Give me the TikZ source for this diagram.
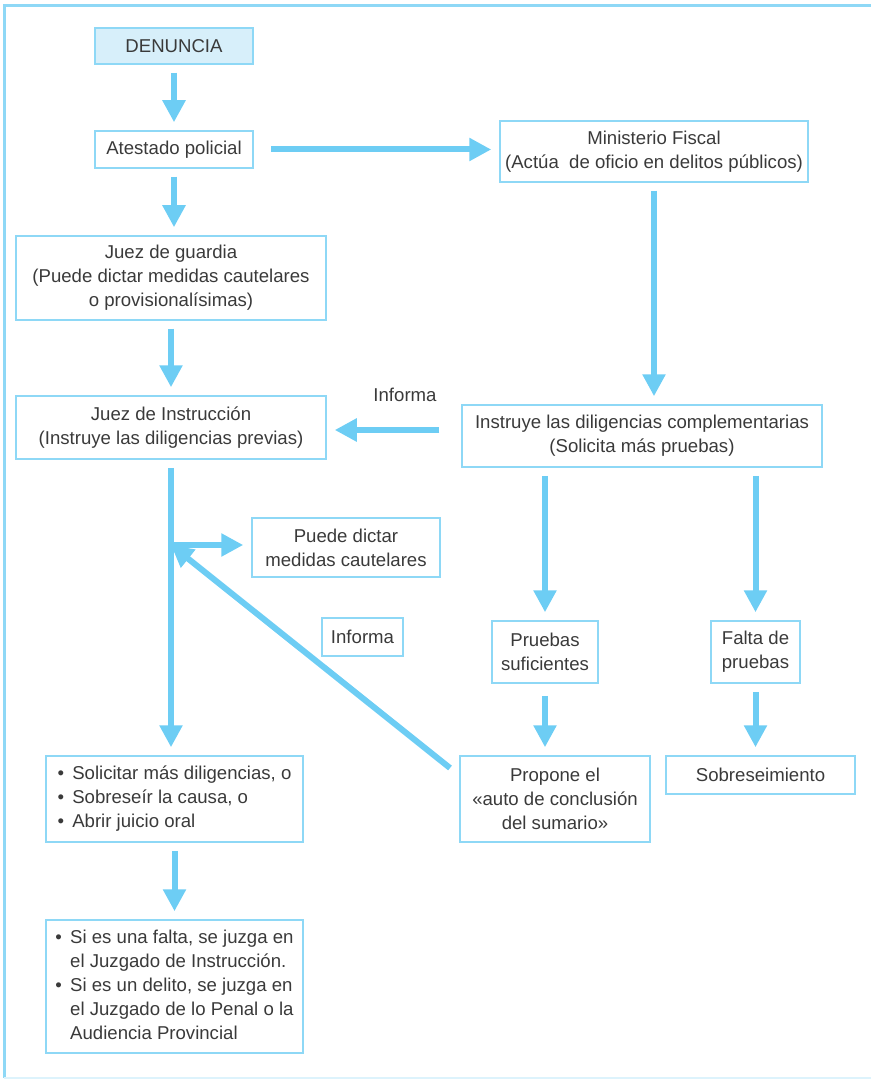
\documentclass[tikz,border=0pt]{standalone}
\usepackage{fontspec}
\setmainfont{Liberation Sans}
\usepackage{tikz}
\usetikzlibrary{arrows.meta}

\definecolor{celeste}{HTML}{6DCDF4}
\definecolor{borde}{HTML}{8ED8F6}
\definecolor{fondo}{HTML}{D7EFFA}
\definecolor{texto}{HTML}{3A3A3A}

\tikzset{
    caja/.style={shape=rectangle,draw=borde,line width=0.75pt,align=center,text=texto,inner sep=2pt},
    flecha/.style={draw=celeste,line width=3pt,-{Triangle[length=11pt,width=11pt]},shorten <=4pt,shorten >=4pt}
}

\begin{document}
\begin{tikzpicture}[x=0.5pt,y=-0.5pt,font=\fontsize{9.3}{12}\selectfont]
    \useasboundingbox (0,0) rectangle (871,1080);
    \draw[borde,line width=1.5pt] (871,6) -- (4,6) -- (4,1078);
    \draw[borde!30,line width=0.75pt] (4,1078) -- (871,1078);
	\node (denuncia) at (174,46) [caja,fill=fondo,minimum width=79pt,minimum height=18pt] {DENUNCIA};
	\node (atestado) at (174,149.5) [caja,minimum width=79pt,minimum height=18.5pt] {Atestado policial};
	\node (ministerio) at (654,151.5) [caja,minimum width=154pt,minimum height=30.5pt] {Ministerio Fiscal\\(Actúa\ \ de oficio en delitos públicos)};
	\node (guardia) at (171,278) [caja,minimum width=155pt,minimum height=42pt] {Juez de guardia\\(Puede dictar medidas cautelares\\o provisionalísimas)};
	\node (instruccion) at (171,427.5) [caja,minimum width=155pt,minimum height=31.5pt] {Juez de Instrucción\\(Instruye las diligencias previas)};
	\node (instruye) at (642,436) [caja,minimum width=180pt,minimum height=31pt] {Instruye las diligencias complementarias\\(Solicita más pruebas)};
	\node (puede) at (346,547.5) [caja,minimum width=94pt,minimum height=29.5pt] {Puede dictar\\medidas cautelares};
	\node (informa) at (362.5,637) [caja,minimum width=40.5pt,minimum height=19pt] {Informa};
	\node (pruebas) at (545,652) [caja,minimum width=53pt,minimum height=31pt] {Pruebas\\suficientes};
	\node (falta) at (755.5,652) [caja,minimum width=44.5pt,minimum height=31pt] {Falta de\\pruebas};
	\node (solicitar) at (174.5,799) [caja,minimum width=128.5pt,minimum height=43pt] {%
	  \begin{tabular}{@{}l@{\ \,}l@{}}
	  \textbullet & Solicitar más diligencias, o\\
	  \textbullet & Sobreseír la causa, o\\
	  \textbullet & Abrir juicio oral
	  \end{tabular}};
	\node (propone) at (555,799) [caja,minimum width=95pt,minimum height=43pt] {Propone el\\«auto de conclusión\\del sumario»};
	\node (sobre) at (760.5,775) [caja,minimum width=94.5pt,minimum height=19pt] {Sobreseimiento};
	\node (sies) at (174.5,986.5) [caja,minimum width=128.5pt,minimum height=66.5pt] {%
	  \begin{tabular}{@{}l@{\ \,}l@{}}
	  \textbullet & Si es una falta, se juzga en\\
	              & el Juzgado de Instrucción.\\
	  \textbullet & Si es un delito, se juzga en\\
	              & el Juzgado de lo Penal o la\\
	              & Audiencia Provincial
	  \end{tabular}};
	\node (informa2) at (405,395) [text=texto] {Informa};
	\coordinate (rama) at (171,545);
	\coordinate (diag) at (450,768);
	% flechas verticales
	\foreach \a/\b in {denuncia/atestado,guardia/instruccion,solicitar/sies}
	\draw[flecha] (\a) -- (\b);
	\draw[flecha] (atestado.south) -- (atestado.south |- guardia.north);
	\draw[flecha,shorten <=8.5pt] (atestado.east) -- (atestado.east -| ministerio.west);
	\draw[flecha] (ministerio.south) -- (ministerio.south |- instruye.north);
	\draw[flecha,shorten <=11pt] ([yshift=3pt]instruye.west) -- ([yshift=3pt]instruye.west -| instruccion.east);
	\draw[flecha] (instruccion.south) -- (instruccion.south |- solicitar.north);
	\draw[flecha,shorten <=0pt] (rama) -- (rama -| puede.west);
	\draw[flecha,shorten <=0pt,shorten >=0pt] (diag) -- (rama);
	\draw[flecha] (pruebas.north |- instruye.south) -- (pruebas.north);
	\draw[flecha] (falta.north |- instruye.south) -- (falta.north);
	\draw[flecha,shorten <=6pt] (pruebas.south) -- (pruebas.south |- propone.north);
	\draw[flecha] (falta.south) -- (falta.south |- sobre.north);
\end{tikzpicture}
\end{document}
